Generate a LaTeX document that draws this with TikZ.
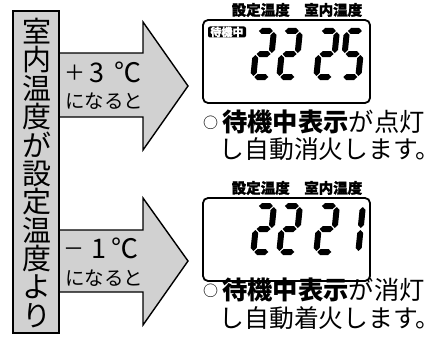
\documentclass[tikz,border=0pt]{standalone}
\usepackage{fontspec}
\setmainfont{Noto Sans CJK JP}
\newfontfamily\jpheavy{Noto Sans CJK JP}[BoldFeatures={FakeBold=1.5}]
\definecolor{panelgray}{gray}{0.82}
\newcommand\hsegd[3]{\fill (#1,#3) -- ({#1+3},{#3+3}) -- ({#2-3},{#3+3}) -- (#2,#3) -- ({#2-3},{#3-3}) -- ({#1+3},{#3-3}) -- cycle;}
\newcommand\vsegd[3]{\fill (#1,#2) -- ({#1+3},{#2+3}) -- ({#1+3},{#3-3}) -- (#1,#3) -- ({#1-3},{#3-3}) -- ({#1-3},{#2+3}) -- cycle;}
\newcommand\sgA{\hsegd{4}{18}{49}}
\newcommand\sgG{\hsegd{4}{18}{26}}
\newcommand\sgD{\hsegd{4}{18}{3}}
\newcommand\sgF{\vsegd{3}{27}{48}}
\newcommand\sgE{\vsegd{3}{4}{25}}
\newcommand\sgB{\vsegd{19}{27}{48}}
\newcommand\sgC{\vsegd{19}{4}{25}}
\newcommand\sevenseg[3]{\begin{scope}[shift={(#1,#2)}, cm={1,0,-0.1,-1,(0,0)}]#3\end{scope}}
\newcommand\digtwo{\sgA\sgB\sgG\sgE\sgD}
\newcommand\digfive{\sgA\sgF\sgG\sgC\sgD}
\newcommand\digone{\sgB\sgC}
\begin{document}
\begin{tikzpicture}[x=1pt,y=-1pt,
  shapegray/.style={draw=black, line width=1.4pt, fill=panelgray, line join=miter},
  dispbox/.style={draw=black, line width=1.8pt, rounded corners=5pt, minimum width=167pt, minimum height=83pt, inner sep=0},
  labeltext/.style={inner sep=0, font=\fontsize{14.5}{14.5}\jpheavy\bfseries\selectfont},
  badge/.style={fill=black, text=white, rounded corners=2pt, minimum width=38pt, minimum height=11pt, inner sep=0, font=\fontsize{11}{11}\jpheavy\bfseries\selectfont},
  vchar/.style={inner sep=0, font=\fontsize{29}{29}\selectfont},
  arrowtext/.style={anchor=base west, inner sep=0, font=\fontsize{19.5}{19.5}\selectfont},
  bigsym/.style={anchor=base west, inner sep=0, font=\fontsize{27}{27}\selectfont},
  bodytext/.style={anchor=west, inner sep=0, font=\fontsize{25.3}{25.3}\selectfont},
  bodytexttwo/.style={anchor=west, inner sep=0, font=\fontsize{24.8}{24.8}\selectfont}]
\useasboundingbox (0,0) rectangle (443,345);
% arrows
\draw[shapegray] (50,53) -- (143,53) -- (143,22) -- (188,86) -- (143,150) -- (143,117) -- (50,117) -- cycle;
\draw[shapegray] (50,230) -- (143,230) -- (143,198) -- (188,261) -- (143,325) -- (143,292) -- (50,292) -- cycle;
% left box
\node[shapegray, line width=1.8pt, minimum width=46pt, minimum height=322pt, inner sep=0] (lbox) at (36,172) {};
\foreach \ch [count=\i] in {室,内,温,度,が,設,定,温,度,よ,り}
  \node[vchar] (vc\i) at (36.5,{31.5+28.4*(\i-1)}) {\ch};
% arrow texts
\node[bigsym] (up1) at (65,82) {\makebox[20pt]{\fontsize{21}{21}\selectfont\raisebox{1.5pt}{＋}}\makebox[24pt]{3}\makebox[38pt]{℃}};
\node[arrowtext] (up2) at (65,108.5) {になると};
\node[bigsym] (dn1) at (65,258) {\makebox[18pt]{\fontsize{21}{21}\selectfont\raisebox{1.5pt}{－}}\makebox[32pt]{1}\makebox[20pt]{℃}};
\node[arrowtext] (dn2) at (65,285.5) {になると};
% displays
\node[dispbox] (disp1) at (286.5,61.5) {};
\node[dispbox] (disp2) at (286.5,239.5) {};
\node[labeltext] (lab1) at (297,10) {設定温度\hspace{1em}室内温度};
\node[labeltext] (lab2) at (297,188) {設定温度\hspace{1em}室内温度};
\node[badge] (badge1) at (227,32) {待機中};
\sevenseg{250}{80}{\digtwo}
\sevenseg{276}{80}{\digtwo}
\sevenseg{313}{80}{\digtwo}
\sevenseg{339}{80}{\digfive}
\sevenseg{250}{255}{\digtwo}
\sevenseg{276}{255}{\digtwo}
\sevenseg{313}{255}{\digtwo}
\sevenseg{339}{255}{\digone}
% messages
\node[bodytext] (msg1a) at (203,122) {\raisebox{3.5pt}{\fontsize{15}{15}\selectfont ○}\hspace{4pt}\textbf{待機中表示}が点灯};
\node[bodytexttwo] (msg1b) at (219.5,149) {し自動消火します。};
\node[bodytext] (msg2a) at (203,290) {\raisebox{3.5pt}{\fontsize{15}{15}\selectfont ○}\hspace{4pt}\textbf{待機中表示}が消灯};
\node[bodytexttwo] (msg2b) at (219.5,318) {し自動着火します。};
\end{tikzpicture}
\end{document}
